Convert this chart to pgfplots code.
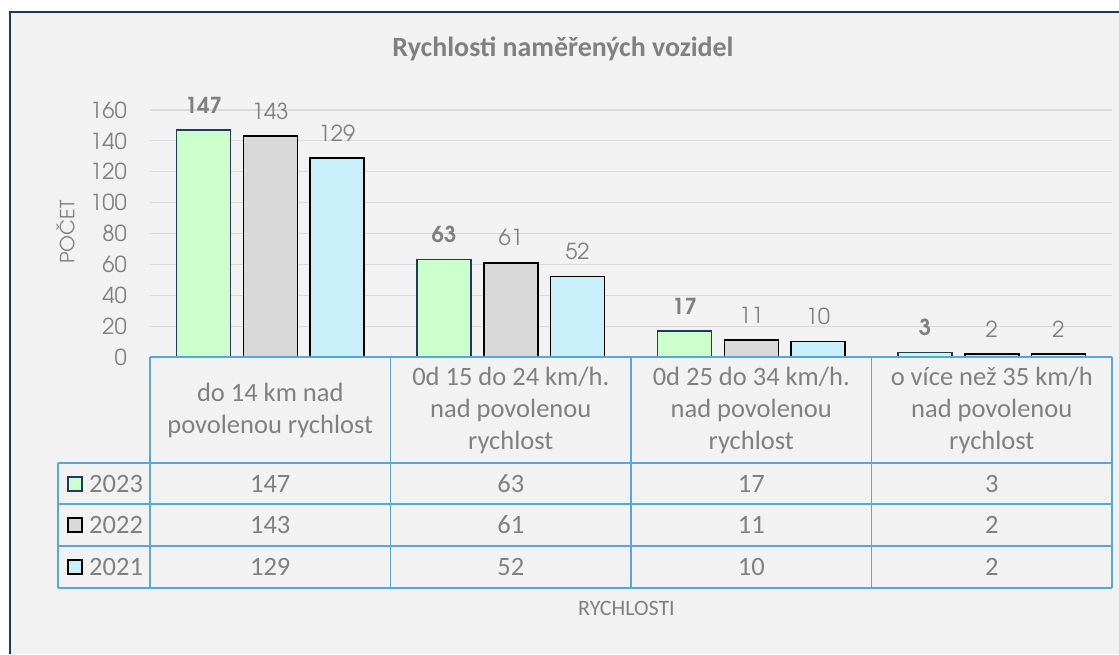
\documentclass[border=0pt]{standalone}
\usepackage{pgfplots}
\pgfplotsset{compat=1.18}
\usepackage{fontspec}
\setmainfont{Carlito}
\newfontfamily\gothic{TeX Gyre Adventor}
\definecolor{bg}{HTML}{F2F2F2}
\definecolor{framec}{HTML}{1F3864}
\definecolor{txt}{HTML}{808080}
\definecolor{gridc}{HTML}{D9D9D9}
\definecolor{tbl}{HTML}{55A7E3}
\definecolor{cG}{HTML}{CCFFCC}
\definecolor{cS}{HTML}{D9D9D9}
\definecolor{cB}{HTML}{C9EFFB}
\begin{document}
\begin{tikzpicture}
\path[use as bounding box] (0pt,0pt) rectangle (1119pt,654pt);
\fill[white] (0pt,0pt) rectangle (1119pt,654pt);
\fill[bg] (9.5pt,0pt) rectangle (1119pt,641.5pt);
\draw[framec, line width=2pt] (9.5pt,0pt) -- (9.5pt,641.5pt) -- (1121pt,641.5pt);
\begin{axis}[
  at={(150pt,297pt)}, anchor=south west,
  scale only axis, width=962pt, height=247pt,
  xmin=-0.5, xmax=3.5, ymin=0, ymax=160,
  ytick={0,20,...,160}, xtick=\empty,
  axis line style={draw=none},
  major tick length=0pt,
  ymajorgrids, grid style={gridc, line width=1.2pt},
  yticklabel style={font=\gothic\fontsize{22}{22}\selectfont, text=txt, anchor=east, inner sep=0pt, xshift=-23pt},
  /pgf/number format/assume math mode=true,
  ybar, bar width=54pt,
  clip=false,
  nodes near coords,
  every node near coord/.append style={font=\gothic\fontsize{22}{22}\selectfont, text=txt, anchor=south, inner sep=0pt, yshift=16pt},
]
\addplot[fill=cG, draw=framec, line width=1.5pt, bar shift=-66.7pt,
  every node near coord/.append style={font=\gothic\bfseries\fontsize{22}{22}\selectfont}]
  coordinates {(0,147) (1,63) (2,17) (3,3)};
\addplot[fill=cS, draw=black, line width=1.5pt, bar shift=0pt]
  coordinates {(0,143) (1,61) (2,11) (3,2)};
\addplot[fill=cB, draw=black, line width=1.5pt, bar shift=66.7pt]
  coordinates {(0,129) (1,52) (2,10) (3,2)};
\end{axis}
% data table
\begin{scope}[tbl, line width=1.7pt]
\draw (150pt,297pt) -- (1112pt,297pt);
\foreach \x in {150,390.5,631,871.5,1112} \draw (\x pt,297pt) -- (\x pt,66pt);
\foreach \y in {191,150,108,66} \draw (58pt,\y pt) -- (1112pt,\y pt);
\draw (58pt,191pt) -- (58pt,66pt);
\end{scope}
\begin{scope}[every node/.style={text=txt, font=\fontsize{26.5}{32}\selectfont, align=center, inner sep=0pt}]
\node at (270.25pt,244pt) {do 14 km nad\\povolenou rychlost};
\node at (510.75pt,244pt) {0d 15 do 24 km/h.\\nad povolenou\\rychlost};
\node at (751.25pt,244pt) {0d 25 do 34 km/h.\\nad povolenou\\rychlost};
\node at (991.75pt,244pt) {o více než 35 km/h\\nad povolenou\\rychlost};
% rows
\foreach \v [count=\i from 0] in {147,63,17,3} \node at (270.25pt+\i*240.5pt,170pt) {\v};
\foreach \v [count=\i from 0] in {143,61,11,2} \node at (270.25pt+\i*240.5pt,129pt) {\v};
\foreach \v [count=\i from 0] in {129,52,10,2} \node at (270.25pt+\i*240.5pt,87pt) {\v};
\node[anchor=west] at (89pt,170pt) {2023};
\node[anchor=west] at (89pt,129pt) {2022};
\node[anchor=west] at (89pt,87pt) {2021};
\end{scope}
\filldraw[fill=cG, draw=framec, line width=1.2pt] (68pt,163pt) rectangle (82pt,177pt);
\filldraw[fill=cS, draw=black, line width=1.2pt] (68pt,122pt) rectangle (82pt,136pt);
\filldraw[fill=cB, draw=black, line width=1.2pt] (68pt,80pt) rectangle (82pt,94pt);
% titles
\node[text=txt, font=\bfseries\fontsize{27.9}{28}\selectfont] at (563pt,605pt) {Rychlosti naměřených vozidel};
\node[text=txt, font=\gothic\fontsize{19.5}{19.5}\selectfont, rotate=90] at (65.5pt,422pt) {POČET};
\node[text=txt, font=\fontsize{22}{22}\selectfont] at (626.5pt,46pt) {RYCHLOSTI};
\end{tikzpicture}
\end{document}
